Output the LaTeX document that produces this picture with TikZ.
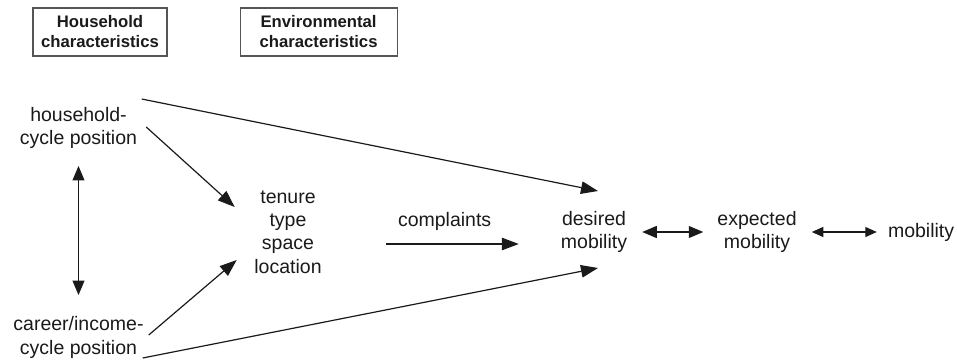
\documentclass[tikz,border=0pt]{standalone}
\usepackage{fontspec}
\setmainfont{Liberation Sans}
\usetikzlibrary{arrows.meta,positioning}
\definecolor{Ink}{HTML}{1A1A1A}
\definecolor{Frame}{HTML}{555555}

\begin{document}
\begin{tikzpicture}[x=1pt,y=1pt,
  lbl/.style={align=center,inner sep=0pt,text=Ink,font=\fontsize{19.5}{23.4}\selectfont},
  hdr/.style={draw=Frame,line width=1.1pt,align=center,inner sep=0pt,minimum height=48pt,
    text=Ink,font=\fontsize{16.7}{20}\selectfont\bfseries},
  arr/.style={draw=Ink,line width=1.2pt,-{Triangle[length=17pt,width=12.5pt]}},
  dbl/.style={draw=Ink,line width=1.2pt,{Triangle[length=14.5pt,width=12pt]}-{Triangle[length=14.5pt,width=12pt]}},
  dbls/.style={draw=Ink,line width=1.1pt,{Triangle[length=11.5pt,width=10pt]}-{Triangle[length=11.5pt,width=10pt]}}]
  \useasboundingbox (0,0) rectangle (957,360);
  % headings
  \node[hdr,minimum width=134pt] (hhbox) at (100,328) {Household\\characteristics};
  \node[hdr,minimum width=157pt,right=72pt of hhbox] (envbox) {Environmental\\characteristics};
  % variables
  \node[lbl] (household) at (78.5,232) {household-\\cycle position};
  \node[lbl] (career) at (78.5,22.5) {career/income-\\cycle position};
  \node[lbl] (tenure) at (288,128) {tenure\\type\\space\\location};
  \node[lbl] (desired) at (594,128) {desired\\mobility};
  \node[lbl,right=90pt of desired] (expected) {expected\\mobility};
  \node[lbl,right=91pt of expected] (mobility) {mobility};
  % links
  \draw[dbl,shorten <=17pt,shorten >=21.5pt] (household.south) -- (career.north);
  \draw[arr] ([shift={(9,1)}]household.east) -- ([shift={(-19.5,25)}]tenure.west);
  \draw[arr] ([shift={(5,2.5)}]career.east) -- ([shift={(-17.5,-28)}]tenure.west);
  \draw[arr] ([shift={(4.5,8)}]household.north east) -- ([shift={(4,20)}]desired.north);
  \draw[arr] ([shift={(-1,0.5)}]career.south east) -- ([shift={(4,-15)}]desired.south);
  \draw[arr,shorten <=64.5pt,shorten >=42pt] ([yshift=-12]tenure.east)
    -- node[lbl,pos=0.514,above=13pt] (complaints) {complaints} ([yshift=-12]desired.west);
  \draw[dbl,shorten <=15pt,shorten >=14pt] (desired.east) -- (expected.west);
  \draw[dbls,shorten <=15pt,shorten >=11pt] (expected.east) -- (mobility.west);
\end{tikzpicture}
\end{document}
